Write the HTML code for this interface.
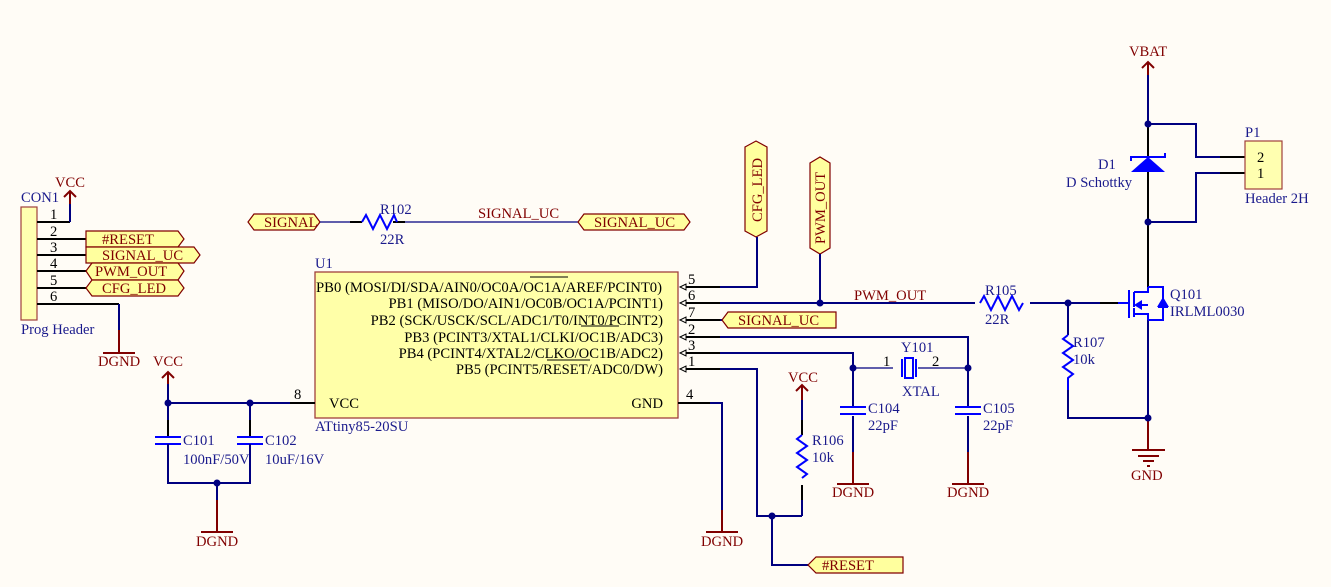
<!DOCTYPE html>
<html><head><meta charset="utf-8"><style>
body{margin:0;background:#fffcf6;}
svg{display:block;font-family:"Liberation Serif",serif;}
.w{stroke:#000080;stroke-width:2;fill:none}
.wt{stroke:#000080;stroke-width:1.3;fill:none}
.p{stroke:#000;stroke-width:2;fill:none}
.pw{stroke:#800000;stroke-width:2;fill:none}
.c{stroke:#0000ff;stroke-width:2;fill:none}
.n{fill:#1a1a8c;font-size:14.6px}
.r{fill:#800000;font-size:14.6px}
.k{fill:#000;font-size:14.6px}
.port{fill:#ffff9e;stroke:#800000;stroke-width:1.2}
</style></head><body>
<svg width="1331" height="587" viewBox="0 0 1331 587">
<rect width="1331" height="587" fill="#fffcf6"/>
<!-- CON1 -->
<text x="21" y="202" class="n">CON1</text>
<rect x="21" y="207" width="16" height="113" fill="#ffffb0" stroke="#a0403c" stroke-width="1.2"/>
<text x="21" y="334" class="n">Prog Header</text>
<path class="p" d="M37 222H70M37 239H86M37 255H86M37 271H86M37 288H86M37 304H119"/>
<path class="w" d="M70 222V203M119 304V330"/>
<path class="pw" d="M70 204V191M64 197L70 191L76 197M119 330V353M103 353H135"/>
<text x="55" y="187" class="r">VCC</text>
<text x="98" y="366" class="r">DGND</text>
<g class="k" font-size="13"><text x="50" y="219">1</text><text x="50" y="236">2</text><text x="50" y="252">3</text><text x="50" y="268">4</text><text x="50" y="285">5</text><text x="50" y="301">6</text></g>
<polygon class="port" points="86,231 178,231 184,239 178,247 86,247"/>
<text x="102" y="244" class="r">#RESET</text>
<polygon class="port" points="86,247 194,247 200,255 194,263 86,263"/>
<text x="102" y="260" class="r">SIGNAL_UC</text>
<polygon class="port" points="92,263 178,263 184,271 178,280 92,280 86,271"/>
<text x="95" y="276" class="r">PWM_OUT</text>
<polygon class="port" points="92,280 178,280 184,288 178,296 92,296 86,288"/>
<text x="102" y="293" class="r">CFG_LED</text>
<!-- SIGNAL -->
<polygon class="port" points="254,214 314,214 320,222 314,230 254,230 248,222"/>
<text x="264" y="227" class="r">SIGNAL</text>
<path class="wt" d="M320 222H350M405 222H578"/>
<path class="p" d="M350 222H362M405 222H393"/>
<path class="c" d="M362 222l4 -7l7 14l7 -14l7 14l7 -14l3 7"/>
<text x="380" y="214" class="n">R102</text>
<text x="380" y="244" class="n">22R</text>
<text x="478" y="218" class="r">SIGNAL_UC</text>
<polygon class="port" points="584,214 684,214 690,222 684,230 584,230 578,222"/>
<text x="594" y="227" class="r">SIGNAL_UC</text>
<!-- vertical ports -->
<polygon class="port" points="745,147 756,141 767,147 767,231 756,237 745,231"/>
<text transform="translate(762,222) rotate(-90)" class="r">CFG_LED</text>
<polygon class="port" points="810,163 820,157 830,163 830,248 820,254 810,248"/>
<text transform="translate(825,244) rotate(-90)" class="r">PWM_OUT</text>
<path class="w" d="M757 237V287H720M820 254V303"/>
<!-- U1 -->
<text x="315" y="268" class="n">U1</text>
<rect x="315" y="272" width="363" height="146" fill="#ffffa8" stroke="#a0403c" stroke-width="1.3"/>
<g class="k" font-size="15.2">
<text x="316" y="292" textLength="346" lengthAdjust="spacingAndGlyphs">PB0 (MOSI/DI/SDA/AIN0/OC0A/OC1A/AREF/PCINT0)</text>
<g text-anchor="end">
<text x="663" y="308">PB1 (MISO/DO/AIN1/OC0B/OC1A/PCINT1)</text>
<text x="663" y="325">PB2 (SCK/USCK/SCL/ADC1/T0/INT0/PCINT2)</text>
<text x="663" y="342">PB3 (PCINT3/XTAL1/CLKI/OC1B/ADC3)</text>
<text x="663" y="358">PB4 (PCINT4/XTAL2/CLKO/OC1B/ADC2)</text>
<text x="663" y="374">PB5 (PCINT5/RESET/ADC0/DW)</text>
<text x="663" y="408">GND</text></g>
<text x="329" y="408">VCC</text>
</g>
<path stroke="#000" stroke-width="1" d="M530 277H568M581 326H619M547 360H590"/>
<text x="315" y="431" class="n">ATtiny85-20SU</text>
<g class="k" font-size="12"><text x="688" y="284">5</text><text x="688" y="300">6</text><text x="688" y="317">7</text><text x="688" y="334">2</text><text x="688" y="350">3</text><text x="688" y="366">1</text><text x="686" y="399">4</text><text x="294" y="399">8</text></g>
<g stroke="#000" stroke-width="1" fill="none">
<path d="M680 287l6 -3v6zM680 303l6 -3v6zM680 320l6 -3v6zM680 337l6 -3v6zM680 353l6 -3v6zM680 369l6 -3v6z"/>
</g>
<path class="p" d="M686 287H720M686 303H720M686 320H720M686 337H720M686 353H720M686 369H720M678 403H710M315 403H290"/>
<path class="w" d="M720 303H975M1030 303H1118M720 320H722M720 337H968V368M720 353H853V368M720 369H757V516H802M710 403H722V510M290 403H168V372M250 403V437M168 403V437"/>
<polygon class="port" points="728,312 836,312 836,328 728,328 722,320"/>
<text x="738" y="325" class="r">SIGNAL_UC</text>
<text x="854" y="300" class="r">PWM_OUT</text>
<!-- R105 -->
<path class="c" d="M980 303l4 -7l7 14l7 -14l7 14l7 -14l7 14l4 -7"/>
<text x="985" y="295" class="n">R105</text>
<text x="985" y="324" class="n">22R</text>
<path class="pw" d="M722 510V532M706 532H738"/>
<text x="701" y="546" class="r">DGND</text>
<!-- left caps -->
<path class="pw" d="M168 384V372M162 378L168 372L174 378"/>
<text x="153" y="366" class="r">VCC</text>
<path class="p" d="M168 420V437M250 420V437M168 448V470M250 448V470"/>
<path class="c" d="M155 437H181M155 444H181M237 437H263M237 444H263"/>
<path class="w" d="M168 444V483H250V444M217 483V500"/>
<path class="pw" d="M217 500V532M201 532H233"/>
<text x="196" y="546" class="r">DGND</text>
<text x="183" y="445" class="n">C101</text><text x="183" y="464" class="n">100nF/50V</text>
<text x="265" y="445" class="n">C102</text><text x="265" y="464" class="n">10uF/16V</text>
<!-- crystal -->
<path class="wt" d="M853 368H893M918 368H968"/>
<path class="c" d="M902 359V377M916 359V377"/><rect x="905" y="358" width="8" height="20" fill="none" stroke="#0000ff" stroke-width="2"/>
<text x="901" y="352" class="n">Y101</text><text x="902" y="396" class="n">XTAL</text>
<text x="883" y="366" class="k" font-size="13">1</text><text x="932" y="366" class="k" font-size="13">2</text>
<path class="w" d="M853 368V407M853 416V452M968 368V407M968 416V452"/>
<path class="c" d="M840 407H866M840 414H866M955 407H981M955 414H981"/>
<path class="pw" d="M853 452V484M837 484H869M968 452V484M952 484H984"/>
<text x="832" y="497" class="r">DGND</text><text x="947" y="497" class="r">DGND</text>
<text x="868" y="413" class="n">C104</text><text x="868" y="430" class="n">22pF</text>
<text x="983" y="413" class="n">C105</text><text x="983" y="430" class="n">22pF</text>
<!-- R106 -->
<path class="pw" d="M802 400V385M796 391L802 385L808 391"/>
<text x="788" y="382" class="r">VCC</text>
<path class="w" d="M802 400V420M802 500V516M772 516V565H808"/>
<path class="p" d="M802 420V435M802 485V500"/>
<path class="c" d="M802 435l-5 4l10 7l-10 7l10 7l-10 7l10 7l-5 4"/>
<text x="812" y="445" class="n">R106</text><text x="812" y="462" class="n">10k</text>
<polygon class="port" points="816,557 903,557 903,573 816,573 808,565"/>
<text x="822" y="570" class="r">#RESET</text>
<!-- right side -->
<path class="pw" d="M1148 75V62M1142 68L1148 62L1154 68"/>
<text x="1129" y="56" class="r">VBAT</text>
<path class="w" d="M1148 75V124M1148 124H1196V157H1220M1148 222H1196V173H1220M1148 320V418M1068 303V335M1068 390V418H1148"/>
<path class="p" d="M1148 124V157M1148 172V222M1148 222V287M1220 157H1245M1220 173H1245M1100 303H1118"/>
<polygon points="1131,172 1165,172 1148,157" fill="#0000ff"/>
<path class="c" d="M1131 161V157H1165V153"/>
<text x="1098" y="169" class="n">D1</text><text x="1066" y="187" class="n">D Schottky</text>
<rect x="1245" y="141" width="37" height="48" fill="#ffffb0" stroke="#a0403c" stroke-width="1.2"/>
<text x="1245" y="137" class="n">P1</text>
<text x="1257" y="162" class="k">2</text><text x="1257" y="178" class="k">1</text>
<text x="1245" y="203" class="n">Header 2H</text>
<!-- MOSFET -->
<path class="c" d="M1118 303H1128M1129 290V318M1134 292V301M1134 299V307M1134 308V317M1134 292H1148V287M1134 314H1148V320M1148 305H1140M1148 287H1163V320H1148M1158 307H1168"/>
<polygon points="1134,305 1142,300 1142,310" fill="#0000ff"/>
<polygon points="1163,297 1157,307 1169,307" fill="#0000ff"/>
<text x="1170" y="299" class="n">Q101</text><text x="1170" y="316" class="n">IRLML0030</text>
<path class="c" d="M1068 335l-5 4l10 7l-10 7l10 7l-10 7l10 7l-5 4v12"/>
<text x="1073" y="347" class="n">R107</text><text x="1073" y="364" class="n">10k</text>
<path class="pw" d="M1148 418V450M1132 450H1165M1138 456H1159M1143 461H1154M1147 466H1150"/>
<text x="1131" y="480" class="r">GND</text>
<g fill="#000080">
<circle cx="820" cy="303" r="3.5"/><circle cx="1068" cy="303" r="3.5"/><circle cx="853" cy="368" r="3.5"/><circle cx="968" cy="368" r="3.5"/><circle cx="772" cy="516" r="3.5"/><circle cx="168" cy="403" r="3.5"/><circle cx="250" cy="403" r="3.5"/><circle cx="217" cy="483" r="3.5"/><circle cx="1148" cy="124" r="3.5"/><circle cx="1148" cy="222" r="3.5"/><circle cx="1148" cy="418" r="3.5"/>
</g>
</svg>
</body></html>
